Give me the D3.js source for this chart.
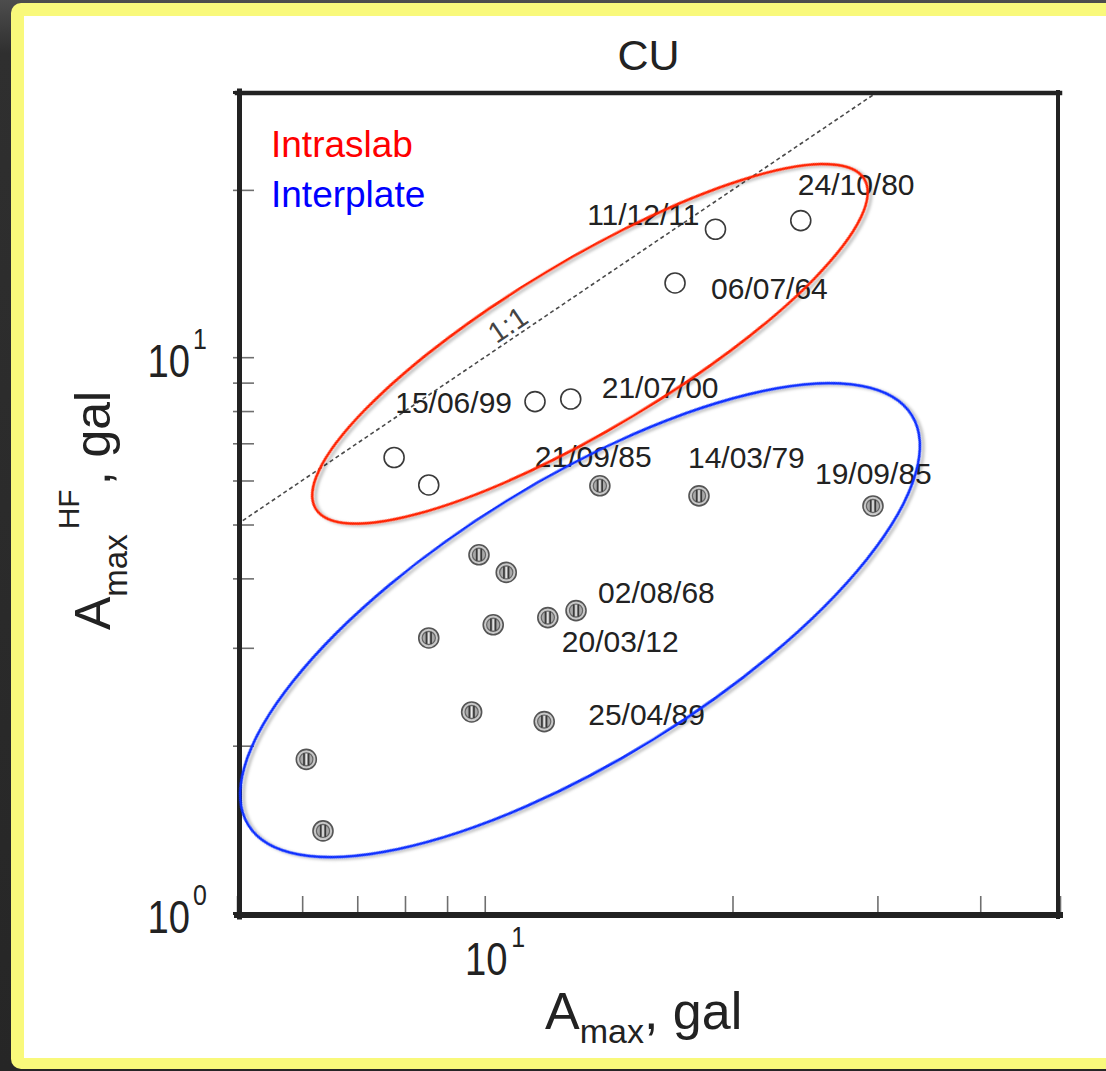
<!DOCTYPE html>
<html>
<head>
<meta charset="utf-8">
<script src="https://cdn.jsdelivr.net/npm/d3@7"></script>
<style>
  html, body { margin: 0; padding: 0; background: #2b2b2b; overflow: hidden; }
  svg { display: block; }
  text { font-family: "Liberation Sans", Arial, Helvetica, sans-serif; }
</style>
</head>
<body>
<svg id="chart" width="1106" height="1071"></svg>
<script>
// Station CU: peak acceleration Amax (gal) vs high-frequency peak Amax^HF (gal)

// Intraslab events (open circles)
const intraslabAmax   = [7.76, 8.55, 11.51, 12.72, 17.03, 19.07, 24.21];
const intraslabAmaxHF = [6.60, 5.89, 8.32, 8.41, 13.60, 16.99, 17.61];
const intraslabDates  = ["", "", "15/06/99", "21/07/00", "06/07/64", "11/12/11", "24/10/80"];

// Interplate events (hatched grey circles)
const interplateAmax   = [6.07, 6.36, 8.55, 9.64, 9.84, 10.24, 10.62, 11.81, 11.93, 12.91, 13.80, 18.21, 29.63];
const interplateAmaxHF = [1.89, 1.405, 3.125, 2.30, 4.41, 3.30, 4.10, 2.21, 3.40, 3.50, 5.87, 5.63, 5.40];
const interplateDates  = ["", "", "", "", "", "", "", "25/04/89", "20/03/12", "02/08/68", "21/09/85", "14/03/79", "19/09/85"];

// Axis ticks (log scale, labels only at the decades)
const xTicks = [5, 6, 7, 8, 9, 10, 20, 30, 40, 50];
const yTicks = [1, 2, 3, 4, 5, 6, 7, 8, 9, 10, 20, 30];
const xDecadeLabels = [10];
const yDecadeLabels = [1, 10];

// Event groups
const groupNames = ["Intraslab", "Interplate"];

// ---------------------------------------------------------------------------
const svg = d3.select("#chart");
const defs = svg.append("defs");

// Page backdrop: dark surround, yellow rounded frame, white sheet
const bgGrad = defs.append("linearGradient").attr("id", "bgGrad")
  .attr("x1", 0).attr("y1", 0).attr("x2", 0).attr("y2", 1);
bgGrad.append("stop").attr("offset", "0%").attr("stop-color", "#4d4d4d");
bgGrad.append("stop").attr("offset", "5%").attr("stop-color", "#2f2f2f");
bgGrad.append("stop").attr("offset", "100%").attr("stop-color", "#262626");
svg.append("rect").attr("width", 1106).attr("height", 1071).attr("fill", "url(#bgGrad)");
svg.append("rect").attr("x", 11).attr("y", 3).attr("width", 1130).attr("height", 1066)
  .attr("rx", 10).attr("fill", "#f9f97b");
svg.append("rect").attr("x", 24).attr("y", 16).attr("width", 1110).attr("height", 1042)
  .attr("fill", "#ffffff");

const shadow = defs.append("filter").attr("id", "lineShadow")
  .attr("x", "-10%").attr("y", "-10%").attr("width", "120%").attr("height", "125%");
shadow.append("feDropShadow").attr("dx", 2).attr("dy", 3).attr("stdDeviation", 1.6)
  .attr("flood-color", "#000").attr("flood-opacity", 0.3);

// Scales
const x = d3.scaleLog().domain([5, 50]).range([237, 1060]);
const y = d3.scaleLog().domain([1, 30]).range([913, 92]);
const [x0, x1] = x.range();
const [y0, y1] = y.range();

defs.append("clipPath").attr("id", "plotClip").append("rect")
  .attr("x", x0 + 4).attr("y", y1 + 3).attr("width", x1 - x0 - 8).attr("height", y0 - y1 - 4);

// Tick marks (inward)
const gx = svg.append("g").attr("transform", `translate(0,${y0})`)
  .call(d3.axisBottom(x).tickValues(xTicks).tickSizeInner(-17).tickSizeOuter(0).tickFormat(""));
gx.select(".domain").remove();
gx.selectAll(".tick line").attr("stroke", "#6f6f6f").attr("stroke-width", 1.6);

const gy = svg.append("g").attr("transform", `translate(${x0},0)`)
  .call(d3.axisLeft(y).tickValues(yTicks).tickSizeInner(-17).tickSizeOuter(0).tickFormat(""));
gy.select(".domain").remove();
gy.selectAll(".tick line")
  .attr("x1", -4)
  .attr("stroke", d => (d === 1 || d === 30) ? "#222" : "#6f6f6f")
  .attr("stroke-width", d => (d === 1 || d === 30) ? 3 : 1.6);

// Frame
const frame = svg.append("g").attr("stroke", "#222").attr("stroke-linecap", "square");
frame.append("line").attr("x1", x0 + 2.5).attr("x2", x0 + 2.5).attr("y1", y1 - 1).attr("y2", y0 + 4).attr("stroke-width", 5);
frame.append("line").attr("x1", x0).attr("x2", x1).attr("y1", y0 + 2).attr("y2", y0 + 2).attr("stroke-width", 6);
frame.append("line").attr("x1", x0).attr("x2", x1).attr("y1", y1 + 1).attr("y2", y1 + 1).attr("stroke-width", 4.5);
frame.append("line").attr("x1", x1 - 2).attr("x2", x1 - 2).attr("y1", y1).attr("y2", y0 + 4).attr("stroke-width", 4);

// Decade tick labels: "10" with exponent
function decadeLabel(g, v, anchor) {
  const exp = String(Math.round(Math.log10(v)));
  g.append("text").attr("text-anchor", anchor).attr("font-size", 46).attr("fill", "#222").text("10");
  const supX = anchor === "middle" ? 30 : 3.6;
  g.append("text").attr("x", supX).attr("y", -28).attr("font-size", 30).attr("fill", "#222").text(exp);
}
xDecadeLabels.forEach(v => {
  const g = svg.append("g").attr("transform", `translate(${x(v) + 1.5},${y0 + 62}) scale(0.83,1)`);
  decadeLabel(g, v, "middle");
});
yDecadeLabels.forEach(v => {
  const g = svg.append("g").attr("transform", `translate(190,${y(v) + 20}) scale(0.83,1)`);
  decadeLabel(g, v, "end");
});

// 1:1 reference line
const plot = svg.append("g").attr("clip-path", "url(#plotClip)");
const oneToOne = [5, 30];
plot.append("line")
  .attr("x1", x(oneToOne[0])).attr("y1", y(oneToOne[0]))
  .attr("x2", x(oneToOne[1])).attr("y2", y(oneToOne[1]))
  .attr("stroke", "#4a4a4a").attr("stroke-width", 1.6).attr("stroke-dasharray", "4,3");
const lineAngle = Math.atan2(y(oneToOne[1]) - y(oneToOne[0]), x(oneToOne[1]) - x(oneToOne[0])) * 180 / Math.PI;
svg.append("text")
  .attr("transform", `translate(${x(10.9)},${y(10.9)}) rotate(${lineAngle})`)
  .attr("text-anchor", "middle").attr("dy", -4)
  .attr("font-size", 29).attr("fill", "#444").text("1:1");

// Points
const intraslab = intraslabAmax.map((v, i) => ({ ax: v, ahf: intraslabAmaxHF[i], date: intraslabDates[i] }));
const interplate = interplateAmax.map((v, i) => ({ ax: v, ahf: interplateAmaxHF[i], date: interplateDates[i] }));

svg.append("g").selectAll("circle").data(intraslab).join("circle")
  .attr("cx", d => x(d.ax)).attr("cy", d => y(d.ahf)).attr("r", 10)
  .attr("fill", "#fff").attr("stroke", "#3a3a3a").attr("stroke-width", 1.6);

const hatched = svg.append("g").selectAll("g").data(interplate).join("g")
  .attr("transform", d => `translate(${x(d.ax)},${y(d.ahf)})`);
hatched.append("circle").attr("r", 10).attr("fill", "#c9c9c9").attr("stroke", "#555").attr("stroke-width", 1.6);
hatched.append("circle").attr("r", 6.6).attr("fill", "#a9a9a9").attr("stroke", "#666").attr("stroke-width", 1.2);
hatched.append("line").attr("x1", -2.3).attr("x2", -2.3).attr("y1", -6).attr("y2", 6).attr("stroke", "#3a3a3a").attr("stroke-width", 1.7);
hatched.append("line").attr("x1", 2.3).attr("x2", 2.3).attr("y1", -6).attr("y2", 6).attr("stroke", "#3a3a3a").attr("stroke-width", 1.7);
hatched.append("line").attr("x1", 0).attr("x2", 0).attr("y1", -5.5).attr("y2", 5.5).attr("stroke", "#f2f2f2").attr("stroke-width", 1.1);

// Event date labels, placed relative to their points
const labelPlacement = {
  "24/10/80": { dx: -3, dy: -26, anchor: "start" },
  "11/12/11": { dx: -16, dy: -4, anchor: "end" },
  "06/07/64": { dx: 36, dy: 16, anchor: "start" },
  "15/06/99": { dx: -23, dy: 11, anchor: "end" },
  "21/07/00": { dx: 31, dy: -1, anchor: "start" },
  "21/09/85": { dx: -65, dy: -19, anchor: "start" },
  "14/03/79": { dx: -11, dy: -28, anchor: "start" },
  "19/09/85": { dx: -58, dy: -22, anchor: "start" },
  "02/08/68": { dx: 22, dy: -8, anchor: "start" },
  "20/03/12": { dx: 14, dy: 34, anchor: "start" },
  "25/04/89": { dx: 44, dy: 3, anchor: "start" }
};
const labelled = intraslab.concat(interplate).filter(d => d.date !== "");
svg.append("g").selectAll("text").data(labelled).join("text")
  .attr("x", d => x(d.ax) + labelPlacement[d.date].dx)
  .attr("y", d => y(d.ahf) + labelPlacement[d.date].dy)
  .attr("text-anchor", d => labelPlacement[d.date].anchor)
  .attr("font-size", 30).attr("fill", "#222")
  .text(d => d.date);

// Group envelopes: ellipses given by the two ends of the long axis (data units)
const envelopes = [
  { group: "Intraslab", tipA: [6.23, 5.34], tipB: [28.92, 20.91], ratio: 0.2625, color: "#ff2200" },
  { group: "Interplate", tipA: [5.16, 1.44], tipB: [33.03, 7.86], ratio: 0.359, color: "#0a2dff" }
];
envelopes.forEach(e => {
  const ax = x(e.tipA[0]), ay = y(e.tipA[1]);
  const bx = x(e.tipB[0]), by = y(e.tipB[1]);
  const cx = (ax + bx) / 2, cy = (ay + by) / 2;
  const a = Math.hypot(bx - ax, by - ay) / 2;
  const ang = Math.atan2(by - ay, bx - ax) * 180 / Math.PI;
  svg.append("ellipse")
    .attr("transform", `translate(${cx},${cy}) rotate(${ang})`)
    .attr("rx", a).attr("ry", a * e.ratio)
    .attr("fill", "none").attr("stroke", e.color).attr("stroke-width", 2.6)
    .attr("filter", "url(#lineShadow)");
});

// Legend
const legendColors = { "Intraslab": "#ff0000", "Interplate": "#0000ff" };
svg.append("g").selectAll("text").data(groupNames).join("text")
  .attr("x", 271).attr("y", (d, i) => 157 + i * 50)
  .attr("font-size", 37).attr("fill", d => legendColors[d]).text(d => d);

// Title
svg.append("text").attr("x", (x0 + x1) / 2).attr("y", 70).attr("text-anchor", "middle")
  .attr("font-size", 43).attr("fill", "#222").text("CU");

// Axis titles
const xt = svg.append("text").attr("x", 545).attr("y", 1029).attr("fill", "#222").attr("font-size", 52);
xt.append("tspan").text("A");
xt.append("tspan").attr("font-size", 34).attr("dy", 14).text("max");
xt.append("tspan").attr("dy", -14).text(", gal");

const yt = svg.append("text").attr("transform", "translate(110,630) rotate(-90)")
  .attr("fill", "#222").attr("font-size", 50);
yt.append("tspan").text("A");
yt.append("tspan").attr("font-size", 33).attr("dy", 17).text("max");
yt.append("tspan").attr("font-size", 30).attr("dy", -48).attr("dx", 5).text("HF");
yt.append("tspan").attr("dy", 31).attr("dx", 4).text(", gal");
</script>
</body>
</html>
